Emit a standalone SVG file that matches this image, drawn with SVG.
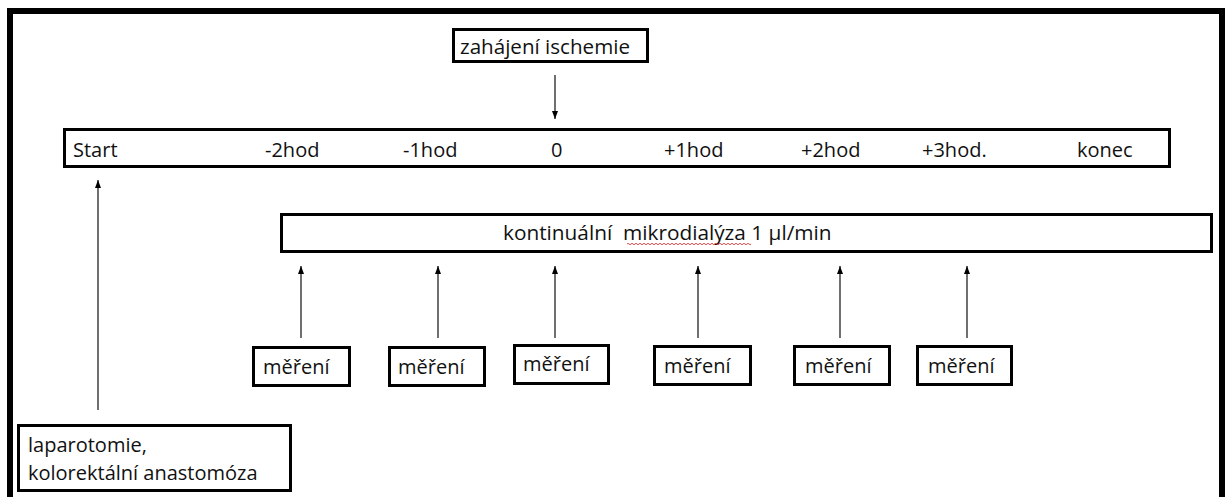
<svg xmlns="http://www.w3.org/2000/svg" width="1225" height="497" viewBox="0 0 1225 497">
<style>
  text { font-family: "Open Sans", "Noto Sans", "Liberation Sans", sans-serif; font-size: 20px; fill: #111; }
  .box { fill: #fff; stroke: #000; stroke-width: 3; }
  .conn { stroke: #222; stroke-width: 1.3; fill: none; marker-end: url(#ah); }
</style>
<defs>
  <marker id="ah" viewBox="0 0 8 6" refX="8" refY="3" markerWidth="8" markerHeight="6" markerUnits="userSpaceOnUse" orient="auto">
    <path d="M0,0 L8,3 L0,6 z" fill="#000"/>
  </marker>
</defs>
<rect x="0" y="0" width="1225" height="497" fill="#fff"/>
<rect id="frame" x="10" y="11" width="1212" height="520" fill="none" stroke="#000" stroke-width="6"/>

<g id="ischemie">
  <rect class="box" x="453.5" y="29.5" width="194" height="32"/>
  <text x="460" y="54" style="font-size:20.6px">zahájení ischemie</text>
</g>

<g id="timeline">
  <rect class="box" x="64.5" y="129.5" width="1105" height="37"/>
  <text x="73" y="157">Start</text>
  <text x="265" y="157">-2hod</text>
  <text x="403" y="157">-1hod</text>
  <text x="551" y="157">0</text>
  <text x="664" y="157">+1hod</text>
  <text x="801" y="157">+2hod</text>
  <text x="922" y="157">+3hod.</text>
  <text x="1077" y="157">konec</text>
</g>

<g id="mikrodialyza">
  <rect class="box" x="281.5" y="214.5" width="930" height="37"/>
  <text x="503" y="240" style="font-size:20.8px" xml:space="preserve">kontinuální  mikrodialýza 1 µl/min</text>
  <path d="M627,244 q1,-1.5 2,0 t2,0 t2,0 t2,0 t2,0 t2,0 t2,0 t2,0 t2,0 t2,0 t2,0 t2,0 t2,0 t2,0 t2,0 t2,0 t2,0 t2,0 t2,0 t2,0 t2,0 t2,0 t2,0 t2,0 t2,0 t2,0 t2,0 t2,0 t2,0 t2,0 t2,0 t2,0 t2,0 t2,0 t2,0 t2,0 t2,0 t2,0 t2,0 t2,0 t2,0 t2,0 t2,0 t2,0 t2,0 t2,0 t2,0 t2,0 t2,0 t2,0 t2,0 t2,0 t2,0 t2,0 t2,0 t2,0 t2,0 t2,0 t2,0 t2,0 t2,0 t2,0" fill="none" stroke="#e03a3a" stroke-width="0.9"/>
</g>

<g id="mereni1">
  <rect class="box" x="253.5" y="347.5" width="96" height="38"/>
  <text x="263" y="374">měření</text>
</g>
<g id="mereni2">
  <rect class="box" x="389.5" y="347.5" width="95" height="38"/>
  <text x="398" y="374">měření</text>
</g>
<g id="mereni3">
  <rect class="box" x="514.5" y="345.5" width="94" height="38"/>
  <text x="523" y="371">měření</text>
</g>
<g id="mereni4">
  <rect class="box" x="654.5" y="346.5" width="96" height="38"/>
  <text x="664" y="373">měření</text>
</g>
<g id="mereni5">
  <rect class="box" x="794.5" y="346.5" width="95" height="38"/>
  <text x="805" y="373">měření</text>
</g>
<g id="mereni6">
  <rect class="box" x="917.5" y="346.5" width="94" height="38"/>
  <text x="928" y="373">měření</text>
</g>

<g id="laparotomie">
  <rect class="box" x="18.5" y="425.5" width="272" height="65"/>
  <text x="28" y="452">laparotomie,</text>
  <text x="28" y="480">kolorektální anastomóza</text>
</g>

<g id="connectors">
  <line class="conn" x1="555" y1="75" x2="555" y2="119"/>
  <line class="conn" x1="98" y1="410" x2="98" y2="180"/>
  <line class="conn" x1="301" y1="338" x2="301" y2="266"/>
  <line class="conn" x1="438" y1="338" x2="438" y2="266"/>
  <line class="conn" x1="555" y1="338" x2="555" y2="266"/>
  <line class="conn" x1="698" y1="338" x2="698" y2="266"/>
  <line class="conn" x1="840" y1="338" x2="840" y2="266"/>
  <line class="conn" x1="967" y1="338" x2="967" y2="266"/>
</g>
</svg>
